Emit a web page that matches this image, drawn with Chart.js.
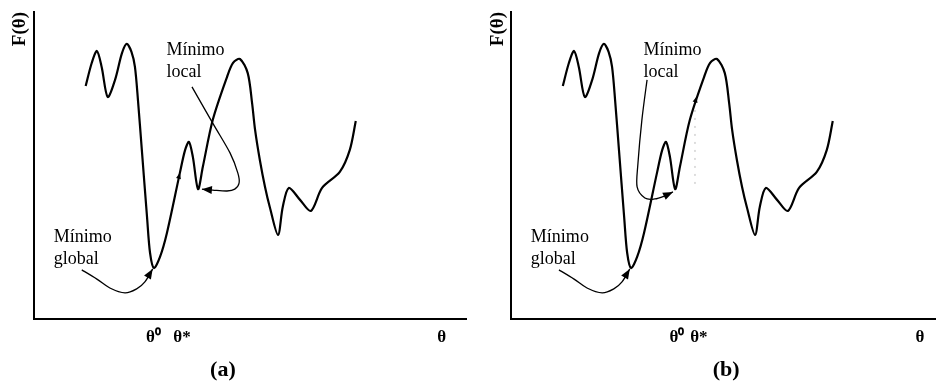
<!DOCTYPE html>
<html>
<head>
<meta charset="utf-8">
<script src="https://cdn.jsdelivr.net/npm/chart.js@4.4.1/dist/chart.umd.min.js"></script>
<style>
  body { margin: 0; background: #fff; }
  #wrap { display: flex; width: 936px; height: 390px; }
  canvas { display: block; }
</style>
</head>
<body>
<div id="wrap">
  <canvas id="chartA" width="468" height="390"></canvas>
  <canvas id="chartB" width="468" height="390"></canvas>
</div>
<script>
// curve F(theta) (same curve in both panels)
const curveX = [12.0, 13.4, 14.6, 15.7, 17.1, 18.8, 20.4, 21.5, 22.6, 23.4, 24.1, 25.0, 26.2, 26.9, 27.8,
  29.2, 30.8, 33.8, 35.0, 35.9, 36.8, 38.0, 39.1, 41.4, 44.7, 46.1, 47.7, 49.5, 50.5, 51.2, 52.3,
  53.5, 54.6, 56.5, 57.6, 59.0, 61.6, 64.1, 66.7, 70.8, 73.1, 74.5];
const curveY = [75.9, 83.4, 87.3, 82.1, 72.3, 77.9, 86.6, 89.6, 87.0, 82.1, 71.3, 55.0, 33.2, 21.5, 16.6,
  20.2, 28.0, 47.6, 55.0, 57.7, 52.8, 42.3, 49.5, 64.8, 78.8, 83.4, 84.7, 80.1, 70.4, 61.6, 51.8,
  43.0, 36.5, 27.4, 36.5, 42.7, 38.8, 35.2, 42.7, 47.9, 55.0, 64.5];

// x-axis tick labels and their positions
const tickLabels = ['θ⁰', 'θ*', 'θ'];
const tickPosA = [27.7, 34.3, 94.4];
const tickPosB = [38.4, 43.5, 94.7];

// annotation texts
const labelLocal = ['Mínimo', 'local'];
const labelGlobal = ['Mínimo', 'global'];

// arrow paths (x, y pairs in data units)
const arrowLocalA = [[36.6, 75.6], [41.4, 63.8], [45.4, 54.1], [47.2, 47.6], [47.5, 44.3],
  [46.5, 42.3], [44.7, 41.7], [41.4, 42.0], [38.9, 42.3]];
const arrowLocalB = [[31.5, 77.9], [30.3, 64.8], [29.4, 50.8], [29.2, 43.0], [31.0, 39.4],
  [33.3, 39.1], [35.6, 40.1], [37.5, 41.4]];
const arrowGlobal = [[11.1, 16.0], [14.6, 13.0], [17.6, 10.1], [21.1, 8.5], [23.8, 9.8],
  [25.7, 12.1], [27.5, 16.3]];

const serif = "'Liberation Serif', 'Times New Roman', serif";

function drawSmooth(ctx, pts) {
  ctx.beginPath();
  ctx.moveTo(pts[0][0], pts[0][1]);
  for (let i = 0; i < pts.length - 1; i++) {
    const p0 = pts[Math.max(i - 1, 0)], p1 = pts[i], p2 = pts[i + 1], p3 = pts[Math.min(i + 2, pts.length - 1)];
    ctx.bezierCurveTo(
      p1[0] + (p2[0] - p0[0]) / 6, p1[1] + (p2[1] - p0[1]) / 6,
      p2[0] - (p3[0] - p1[0]) / 6, p2[1] - (p3[1] - p1[1]) / 6,
      p2[0], p2[1]);
  }
  ctx.stroke();
}

function arrowHead(ctx, from, to, len, half) {
  const a = Math.atan2(to[1] - from[1], to[0] - from[0]);
  ctx.beginPath();
  ctx.moveTo(to[0], to[1]);
  ctx.lineTo(to[0] - len * Math.cos(a) + half * Math.sin(a), to[1] - len * Math.sin(a) - half * Math.cos(a));
  ctx.lineTo(to[0] - len * Math.cos(a) - half * Math.sin(a), to[1] - len * Math.sin(a) + half * Math.cos(a));
  ctx.closePath();
  ctx.fill();
}

function makeChart(id, cfg) {
  const notes = {
    id: 'notes',
    afterDatasetsDraw(chart) {
      const ctx = chart.ctx;
      const sx = chart.scales.x, sy = chart.scales.y;
      const px = (p) => [sx.getPixelForValue(p[0]), sy.getPixelForValue(p[1])];
      ctx.save();
      ctx.fillStyle = '#000';
      ctx.strokeStyle = '#000';

      // texts
      ctx.font = '18px ' + serif;
      ctx.textBaseline = 'middle';
      ctx.textAlign = 'left';
      labelLocal.forEach((t, i) => {
        const p = px([30.7, 87.6 - i * 7.2]);
        ctx.fillText(t, p[0], p[1]);
      });
      labelGlobal.forEach((t, i) => {
        const p = px([4.6, 26.7 - i * 7.2]);
        ctx.fillText(t, p[0], p[1]);
      });

      // arrows
      ctx.lineWidth = 1.3;
      [cfg.arrowLocal, arrowGlobal].forEach((path) => {
        const pts = path.map(px);
        drawSmooth(ctx, pts);
        arrowHead(ctx, pts[pts.length - 2], pts[pts.length - 1], 10, 4);
      });

      // small arrowhead on the curve
      arrowHead(ctx, px(cfg.curveArrow[0]), px(cfg.curveArrow[1]), 6, 2.5);

      // faint dotted guide (panel b)
      if (cfg.guide) {
        const a = px(cfg.guide[0]), b = px(cfg.guide[1]);
        ctx.strokeStyle = '#bbb';
        ctx.lineWidth = 1;
        ctx.setLineDash([2, 6]);
        ctx.beginPath();
        ctx.moveTo(a[0], a[1]);
        ctx.lineTo(b[0], b[1]);
        ctx.stroke();
        ctx.setLineDash([]);
      }

      // panel letter
      ctx.fillStyle = '#000';
      ctx.font = 'bold 22px ' + serif;
      ctx.textAlign = 'center';
      ctx.fillText(cfg.letter, sx.getPixelForValue(cfg.letterX), chart.chartArea.bottom + 51);
      ctx.restore();
    }
  };

  return new Chart(document.getElementById(id), {
    type: 'line',
    data: {
      datasets: [{
        data: curveX.map((x, i) => ({ x: x, y: curveY[i] })),
        borderColor: '#000',
        borderWidth: 2.2,
        pointRadius: 0,
        fill: false,
        tension: 0.3
      }]
    },
    options: {
      responsive: false,
      animation: false,
      layout: { padding: { left: cfg.padLeft, right: cfg.padRight, top: 12, bottom: 34.6 } },
      plugins: { legend: { display: false }, tooltip: { enabled: false } },
      scales: {
        x: {
          type: 'linear',
          min: 0,
          max: cfg.xMax,
          grid: { display: false, drawTicks: false },
          border: { color: '#000', width: 2 },
          afterBuildTicks: (scale) => { scale.ticks = cfg.ticks.map((v) => ({ value: v })); },
          ticks: {
            autoSkip: false,
            maxRotation: 0,
            padding: 8,
            color: '#000',
            font: { family: serif, size: 17, weight: 'bold' },
            callback: (value, index) => tickLabels[index]
          }
        },
        y: {
          min: 0,
          max: 100,
          grid: { display: false, drawTicks: false },
          border: { color: '#000', width: 2 },
          ticks: { display: false },
          title: {
            display: true,
            text: 'F(θ)',
            align: 'end',
            color: '#000',
            padding: { top: 4, bottom: 2 },
            font: { family: serif, size: 19, weight: 'bold' }
          }
        }
      }
    },
    plugins: [notes]
  });
}

makeChart('chartA', {
  ticks: tickPosA, xMax: 100, padLeft: 5, padRight: 2,
  arrowLocal: arrowLocalA,
  curveArrow: [[32.0, 37.0], [33.8, 47.6]],
  letter: '(a)', letterX: 43.75
});

makeChart('chartB', {
  ticks: tickPosB, xMax: 98.4, padLeft: 14.2, padRight: 0,
  arrowLocal: arrowLocalB,
  curveArrow: [[41.4, 64.8], [43.0, 72.5]],
  guide: [[42.6, 68.1], [42.6, 43.0]],
  letter: '(b)', letterX: 49.8
});
</script>
</body>
</html>
